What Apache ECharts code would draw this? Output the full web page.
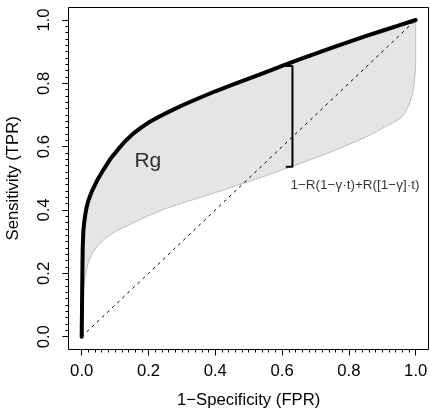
<!DOCTYPE html>
<html><head><meta charset="utf-8">
<script src="https://cdn.jsdelivr.net/npm/echarts@6/dist/echarts.min.js"></script>
<style>html,body{margin:0;padding:0;background:#fff}#c{width:430px;height:410px}</style>
</head><body><div id="c"></div>
<script>
// ROC curve R(t) (thick black)
const upperX = [0, 0.001, 0.002, 0.003, 0.005, 0.008, 0.011, 0.015, 0.02, 0.03, 0.046, 0.065, 0.085, 0.11, 0.13, 0.155, 0.18, 0.2, 0.23, 0.26, 0.3, 0.35, 0.4, 0.45, 0.5, 0.55, 0.6, 0.65, 0.7, 0.75, 0.8, 0.85, 0.9, 0.95, 1.0];
const upperY = [0, 0.1, 0.2, 0.28, 0.335, 0.365, 0.388, 0.41, 0.43, 0.458, 0.493, 0.527, 0.56, 0.593, 0.617, 0.642, 0.662, 0.676, 0.694, 0.710, 0.730, 0.753, 0.775, 0.795, 0.815, 0.835, 0.855, 0.875, 0.894, 0.913, 0.931, 0.949, 0.966, 0.983, 1.0];
// lower boundary of Rg (thin gray)
const lowerX = [0, 0.001, 0.003, 0.006, 0.009, 0.014, 0.02, 0.031, 0.05, 0.071, 0.105, 0.151, 0.2, 0.25, 0.284, 0.35, 0.4, 0.45, 0.5, 0.55, 0.629, 0.7, 0.75, 0.8, 0.85, 0.878, 0.9, 0.93, 0.955, 0.97, 0.981, 0.99, 0.995, 0.998, 1.0, 1.0];
const lowerY = [0, 0.06, 0.12, 0.155, 0.18, 0.21, 0.235, 0.263, 0.29, 0.311, 0.335, 0.358, 0.382, 0.404, 0.416, 0.438, 0.455, 0.472, 0.49, 0.508, 0.537, 0.565, 0.585, 0.607, 0.63, 0.645, 0.658, 0.675, 0.69, 0.71, 0.735, 0.765, 0.795, 0.83, 0.87, 1.0];
// chance diagonal
const diagX = [0, 1];
const diagY = [0, 1];
// bracket marking the vertical gap
const bracketX = [0.611, 0.631, 0.631, 0.611];
const bracketY = [0.855, 0.855, 0.537, 0.537];
const tickValues = [0, 0.2, 0.4, 0.6, 0.8, 1.0];
const rgLabel = 'Rg';
const rgAt = [0.198, 0.555];
const formulaLabel = '1\u2212R(1\u2212\u03b3\u00b7t)+R([1\u2212\u03b3]\u00b7t)';
const formulaAt = [0.818, 0.479];

const zip = (a, b) => a.map((v, i) => [v, b[i]]);
const upper = zip(upperX, upperY);
const lower = zip(lowerX, lowerY);
const polyPts = upper.concat(lower.slice().reverse());

const FONT = '"Liberation Sans", Arial, Helvetica, sans-serif';
const chart = echarts.init(document.getElementById('c'), null, {renderer: 'canvas'});
const axisCommon = {
  type: 'value', min: tickValues[0], max: tickValues[tickValues.length - 1], interval: 0.2, gridIndex: 1,
  axisLine: {show: true, onZero: false, lineStyle: {color: '#000', width: 1}},
  axisTick: {show: true, length: 6, lineStyle: {color: '#000', width: 1}},
  minorTick: {show: true, splitNumber: 10, length: 3, lineStyle: {color: '#000', width: 1}},
  splitLine: {show: false}, minorSplitLine: {show: false},
  nameLocation: 'middle',
  nameTextStyle: {fontFamily: FONT, fontSize: 16.7, color: '#000'},
};
chart.setOption({
  animation: false,
  backgroundColor: '#fff',
  grid: [
    {left: 68.5, top: 7.5, width: 360, height: 342, show: true, borderColor: '#000', borderWidth: 1, backgroundColor: 'transparent', containLabel: false, outerBoundsMode: 'none'},
    {left: 81.7, top: 20, width: 334, height: 316.7, containLabel: false, outerBoundsMode: 'none'}
  ],
  xAxis: [
    {type: 'value', gridIndex: 0, min: 0, max: 1, show: false},
    Object.assign({}, axisCommon, {
      position: 'bottom', offset: 12.8, name: '1\u2212Specificity (FPR)', nameGap: 42,
      axisLabel: {fontFamily: FONT, fontSize: 16.7, color: '#000', margin: 13, formatter: v => v.toFixed(1)}
    })
  ],
  yAxis: [
    {type: 'value', gridIndex: 0, min: 0, max: 1, show: false},
    Object.assign({}, axisCommon, {
      position: 'left', offset: 13.3, name: 'Sensitivity (TPR)', nameGap: 47,
      axisLabel: {fontFamily: FONT, fontSize: 16.7, color: '#000', margin: 16, rotate: 90, formatter: v => v.toFixed(1)}
    })
  ],
  series: [
    {
      type: 'custom', xAxisIndex: 1, yAxisIndex: 1, clip: false, z: 1,
      data: [[0, 0]],
      renderItem: (params, api) => ({
        type: 'polygon',
        shape: {points: polyPts.map(p => api.coord(p))},
        style: {fill: '#e5e5e5', stroke: null}
      })
    },
    {
      type: 'line', xAxisIndex: 1, yAxisIndex: 1, data: lower, showSymbol: false, clip: false, z: 2,
      lineStyle: {color: '#bebebe', width: 1}
    },
    {
      type: 'line', xAxisIndex: 1, yAxisIndex: 1, data: zip(diagX, diagY), showSymbol: false, clip: false, z: 3,
      lineStyle: {color: '#000', width: 1, type: [3, 4]}
    },
    {
      type: 'line', xAxisIndex: 1, yAxisIndex: 1, data: upper, showSymbol: false, clip: false, z: 4,
      lineStyle: {color: '#000', width: 4, cap: 'round', join: 'round'}
    },
    {
      type: 'line', xAxisIndex: 1, yAxisIndex: 1, data: zip(bracketX, bracketY), showSymbol: false, clip: false, z: 5,
      lineStyle: {color: '#000', width: 2}
    },
    {
      type: 'scatter', xAxisIndex: 1, yAxisIndex: 1, symbolSize: 0, clip: false, z: 6,
      data: [
        {value: rgAt, label: {show: true, formatter: rgLabel, fontSize: 21, position: 'inside', color: '#000', fontFamily: FONT}},
        {value: formulaAt, label: {show: true, formatter: formulaLabel, fontSize: 13.5, position: 'inside', color: '#000', fontFamily: FONT}}
      ]
    }
  ]
});
</script></body></html>
